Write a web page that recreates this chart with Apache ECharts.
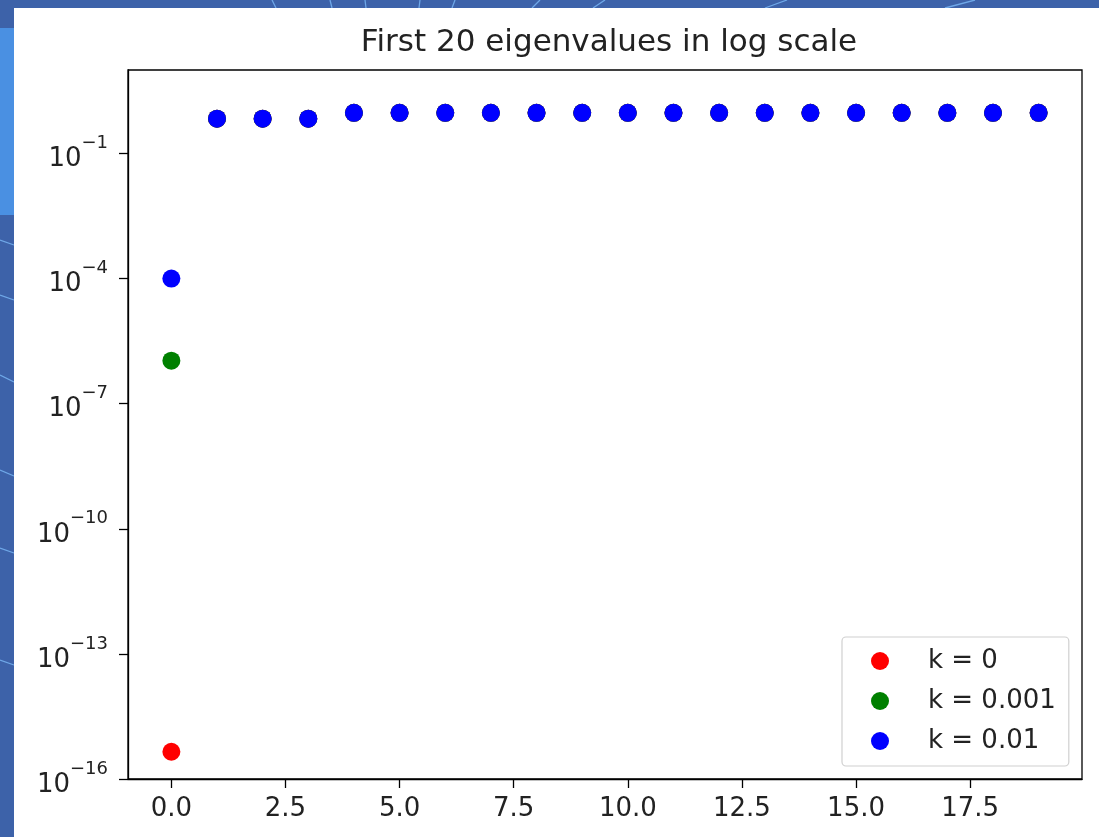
<!DOCTYPE html>
<html>
<head>
<meta charset="utf-8">
<script src="https://cdn.jsdelivr.net/npm/echarts@6/dist/echarts.min.js"></script>
<style>
html,body{margin:0;padding:0;background:#3d62a9;}
#main{width:1099px;height:837px;}
</style>
</head>
<body>
<div id="main"></div>
<script>
// ---- data ----
var titleText = 'First 20 eigenvalues in log scale';
var indices = [0,1,2,3,4,5,6,7,8,9,10,11,12,13,14,15,16,17,18,19];
var seriesNames = ['k = 0', 'k = 0.001', 'k = 0.01'];
var seriesColors = ['#ff0000', '#008000', '#0000ff'];
// eigenvalues (k=0 and k=0.001 beyond index 0 are hidden under k=0.01)
var eigK0    = [4.5e-16, 0.68, 0.68, 0.68, 0.94, 0.94, 0.94, 0.94, 0.94, 0.94, 0.94, 0.94, 0.94, 0.94, 0.94, 0.94, 0.94, 0.94, 0.94, 0.94];
var eigK0001 = [1.07e-6, 0.68, 0.68, 0.68, 0.94, 0.94, 0.94, 0.94, 0.94, 0.94, 0.94, 0.94, 0.94, 0.94, 0.94, 0.94, 0.94, 0.94, 0.94, 0.94];
var eigK001  = [1.0e-4, 0.68, 0.68, 0.68, 0.94, 0.94, 0.94, 0.94, 0.94, 0.94, 0.94, 0.94, 0.94, 0.94, 0.94, 0.94, 0.94, 0.94, 0.94, 0.94];
var xTicks = [0, 2.5, 5, 7.5, 10, 12.5, 15, 17.5];
var yTickExponents = [-16, -13, -10, -7, -4, -1];

var allSeries = [eigK0, eigK0001, eigK001];
var yTicks = yTickExponents.map(function (e) { return Math.pow(10, e); });

var chart = echarts.init(document.getElementById('main'), null, {renderer: 'canvas'});

function pair(vals) { return vals.map(function (v, i) { return [indices[i], v]; }); }

var font = 'DejaVu Sans';
var deco = '#6fa8e8';
function decoLine(x1, y1, x2, y2) {
  return {type: 'line', z: -10, silent: true, shape: {x1: x1, y1: y1, x2: x2, y2: y2}, style: {stroke: deco, lineWidth: 1.3}};
}
var option = {
  backgroundColor: '#3d62a9',
  animation: false,
  graphic: [
    {type: 'rect', z: -10, silent: true, shape: {x: 0, y: 28, width: 14, height: 187}, style: {fill: '#4a90e2'}},
    decoLine(0, 240, 14, 245), decoLine(0, 295, 14, 300), decoLine(0, 375, 14, 382),
    decoLine(0, 470, 14, 476), decoLine(0, 548, 14, 553), decoLine(0, 660, 14, 665),
    decoLine(272, 0, 276, 8), decoLine(330, 0, 332, 8), decoLine(365, 0, 366, 8),
    decoLine(420, 0, 419, 8), decoLine(455, 0, 452, 8), decoLine(540, 0, 532, 8),
    decoLine(605, 0, 593, 8), decoLine(787, 0, 765, 8), decoLine(975, 0, 945, 8),
    {type: 'rect', z: -5, silent: true, shape: {x: 14, y: 8, width: 1085, height: 829}, style: {fill: '#ffffff'}}
  ],
  title: {
    text: titleText,
    left: 604, top: 22, textAlign: 'center',
    textStyle: {fontFamily: font, fontSize: 31, fontWeight: 'normal', color: '#222222'}
  },
  grid: {
    left: 128, top: 70, width: 954, height: 709,
    show: true, borderColor: '#000000', borderWidth: 1.3, backgroundColor: 'transparent'
  },
  legend: {
    data: seriesNames,
    orient: 'vertical',
    left: 842, top: 637,
    icon: 'circle', itemWidth: 18, itemHeight: 18, itemGap: 14,
    padding: [11, 13, 12, 29],
    backgroundColor: '#ffffff', borderColor: '#d0d0d0', borderWidth: 1.2, borderRadius: 4,
    textStyle: {fontFamily: font, fontSize: 26, color: '#222222', padding: [0, 0, 0, 34]}
  },
  xAxis: {
    type: 'value', min: -0.95, max: 19.95,
    splitLine: {show: false},
    axisLine: {show: true, onZero: false, lineStyle: {color: '#000', width: 1.3}},
    axisTick: {show: true, length: 9, lineStyle: {color: '#000', width: 1.3}, customValues: xTicks},
    axisLabel: {
      customValues: xTicks, margin: 17,
      fontFamily: font, fontSize: 26, color: '#222222',
      formatter: function (v) { return Number(v).toFixed(1); }
    }
  },
  yAxis: {
    type: 'log', logBase: 10, min: 1e-16, max: 1e1,
    splitLine: {show: false},
    axisLine: {show: true, onZero: false, lineStyle: {color: '#000', width: 1.3}},
    axisTick: {show: true, length: 9, lineStyle: {color: '#000', width: 1.3}, customValues: yTicks},
    axisLabel: {
      customValues: yTicks, margin: 20,
      formatter: function (v) {
        var e = Math.round(Math.log10(v));
        return '{b|10}{s|' + (e < 0 ? '\u2212' + (-e) : e) + '}';
      },
      rich: {
        b: {fontFamily: font, fontSize: 26, color: '#222222', lineHeight: 30, verticalAlign: 'bottom'},
        s: {fontFamily: font, fontSize: 18, color: '#222222', lineHeight: 38, verticalAlign: 'top'}
      }
    }
  },
  series: allSeries.map(function (vals, i) {
    return {
      name: seriesNames[i], type: 'scatter',
      data: pair(vals),
      symbolSize: 18,
      itemStyle: {color: seriesColors[i], opacity: 1},
      z: 2 + i
    };
  })
};
chart.setOption(option);
</script>
</body>
</html>
